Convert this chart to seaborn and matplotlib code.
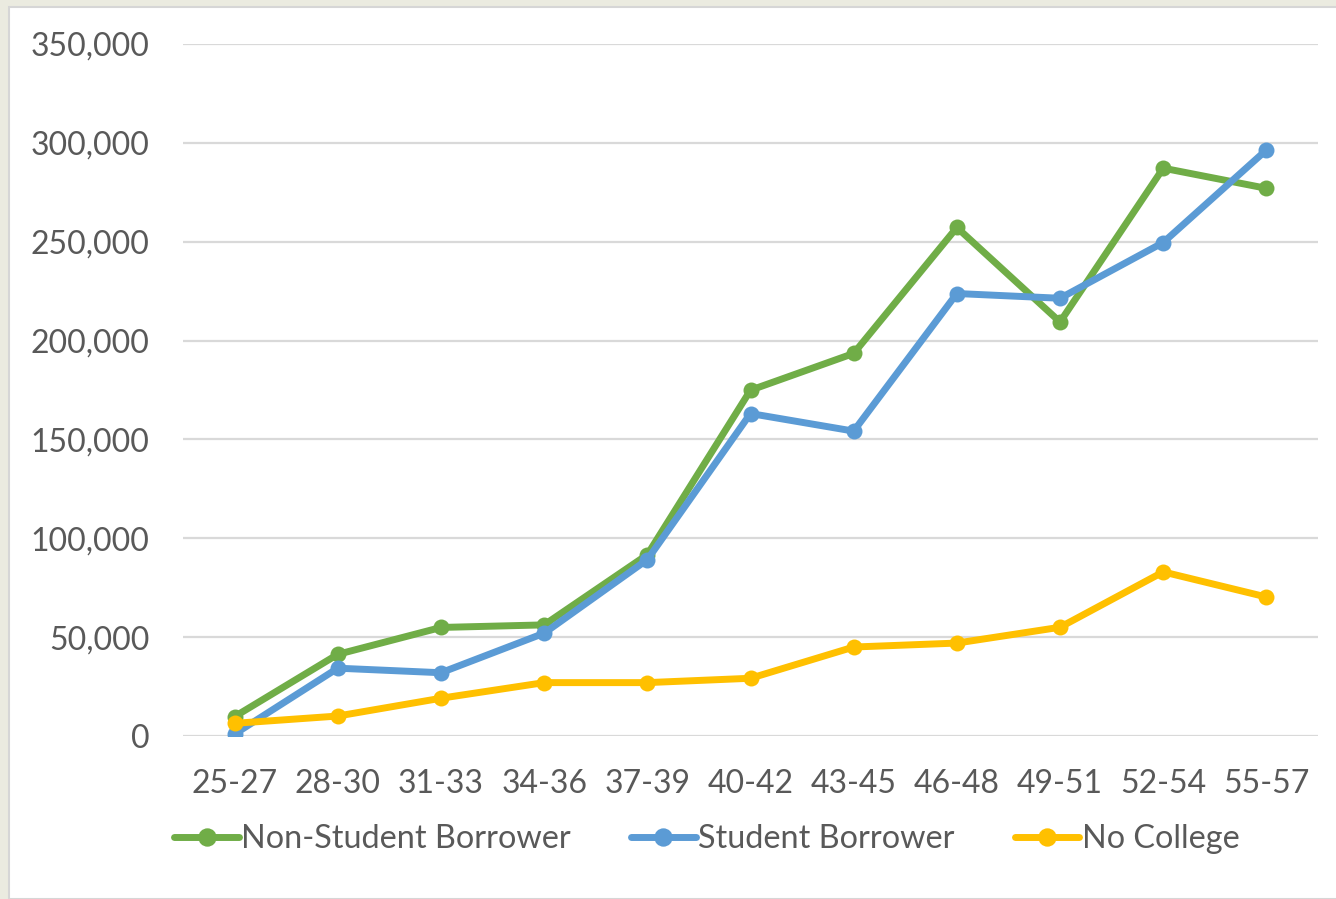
import matplotlib
matplotlib.use("Agg")
import matplotlib.pyplot as plt
from matplotlib.patches import Rectangle
from matplotlib.ticker import FuncFormatter, MultipleLocator
import seaborn as sns
import pandas as pd

# Age bands on the x axis
age_bands = ["25-27", "28-30", "31-33", "34-36", "37-39", "40-42",
             "43-45", "46-48", "49-51", "52-54", "55-57"]

# Values per age band for each group
non_student_borrower = [9800, 41300, 54900, 56200, 91700, 174900,
                        193500, 257200, 209400, 287200, 277000]
student_borrower = [1000, 34300, 32000, 52000, 89200, 163100,
                    154200, 223800, 221400, 249600, 296400]
no_college = [6400, 10100, 19100, 27000, 27000, 29200,
              45000, 47000, 55000, 83000, 70300]

series_names = ["Non-Student Borrower", "Student Borrower", "No College"]
series_values = [non_student_borrower, student_borrower, no_college]
series_colors = ["#70AD47", "#5B9BD5", "#FFC000"]

rows = []
for name, vals in zip(series_names, series_values):
    for band, v in zip(age_bands, vals):
        rows.append({"band": band, "value": v, "group": name})
df = pd.DataFrame(rows)

sns.set_theme(style="white")
plt.rcParams["font.family"] = ["Lato", "DejaVu Sans"]

fig = plt.figure(figsize=(13.36, 8.99), dpi=100)
fig.patch.set_facecolor("#EBEBE0")
# white chart area with a thin grey edge, kept behind the axes
fig.patches.append(Rectangle((9.0 / 1336, 0), 1.0, (899 - 7.0) / 899,
                             transform=fig.transFigure, facecolor="white",
                             edgecolor="#D6D6D6", linewidth=1.5, zorder=-1))

ax = fig.add_axes([183 / 1336, (899 - 736) / 899,
                   (1318 - 183) / 1336, (736 - 44) / 899])
ax.set_facecolor("none")

sns.lineplot(data=df, x="band", y="value", hue="group",
             hue_order=series_names, palette=series_colors,
             sort=False, marker="o", markersize=11.5, markeredgewidth=0,
             linewidth=5.0, legend=False, ax=ax)

ax.set_xlim(-0.5, len(age_bands) - 0.5)
ax.set_ylim(0, 350000)
ax.yaxis.set_major_locator(MultipleLocator(50000))
ax.yaxis.set_major_formatter(FuncFormatter(lambda v, p: f"{int(v):,}"))
ax.grid(axis="y", color="#D9D9D9", linewidth=1.6)
ax.set_axisbelow(True)
for s in ax.spines.values():
    s.set_visible(False)
ax.set_xlabel("")
ax.set_ylabel("")
ax.tick_params(axis="both", length=0, labelsize=23, labelcolor="#595959")
ax.tick_params(axis="y", pad=24)
ax.tick_params(axis="x", pad=24)

handles = ax.lines[:3]
leg = fig.legend(handles, series_names, loc="center",
                 bbox_to_anchor=(707 / 1336, (899 - 839) / 899), ncol=3,
                 frameon=False, fontsize=23.3, handlelength=2.0,
                 handletextpad=0.08, columnspacing=1.85, markerscale=1.15)
for t in leg.get_texts():
    t.set_color("#595959")

fig.savefig("out.png", dpi=100, facecolor=fig.get_facecolor())
